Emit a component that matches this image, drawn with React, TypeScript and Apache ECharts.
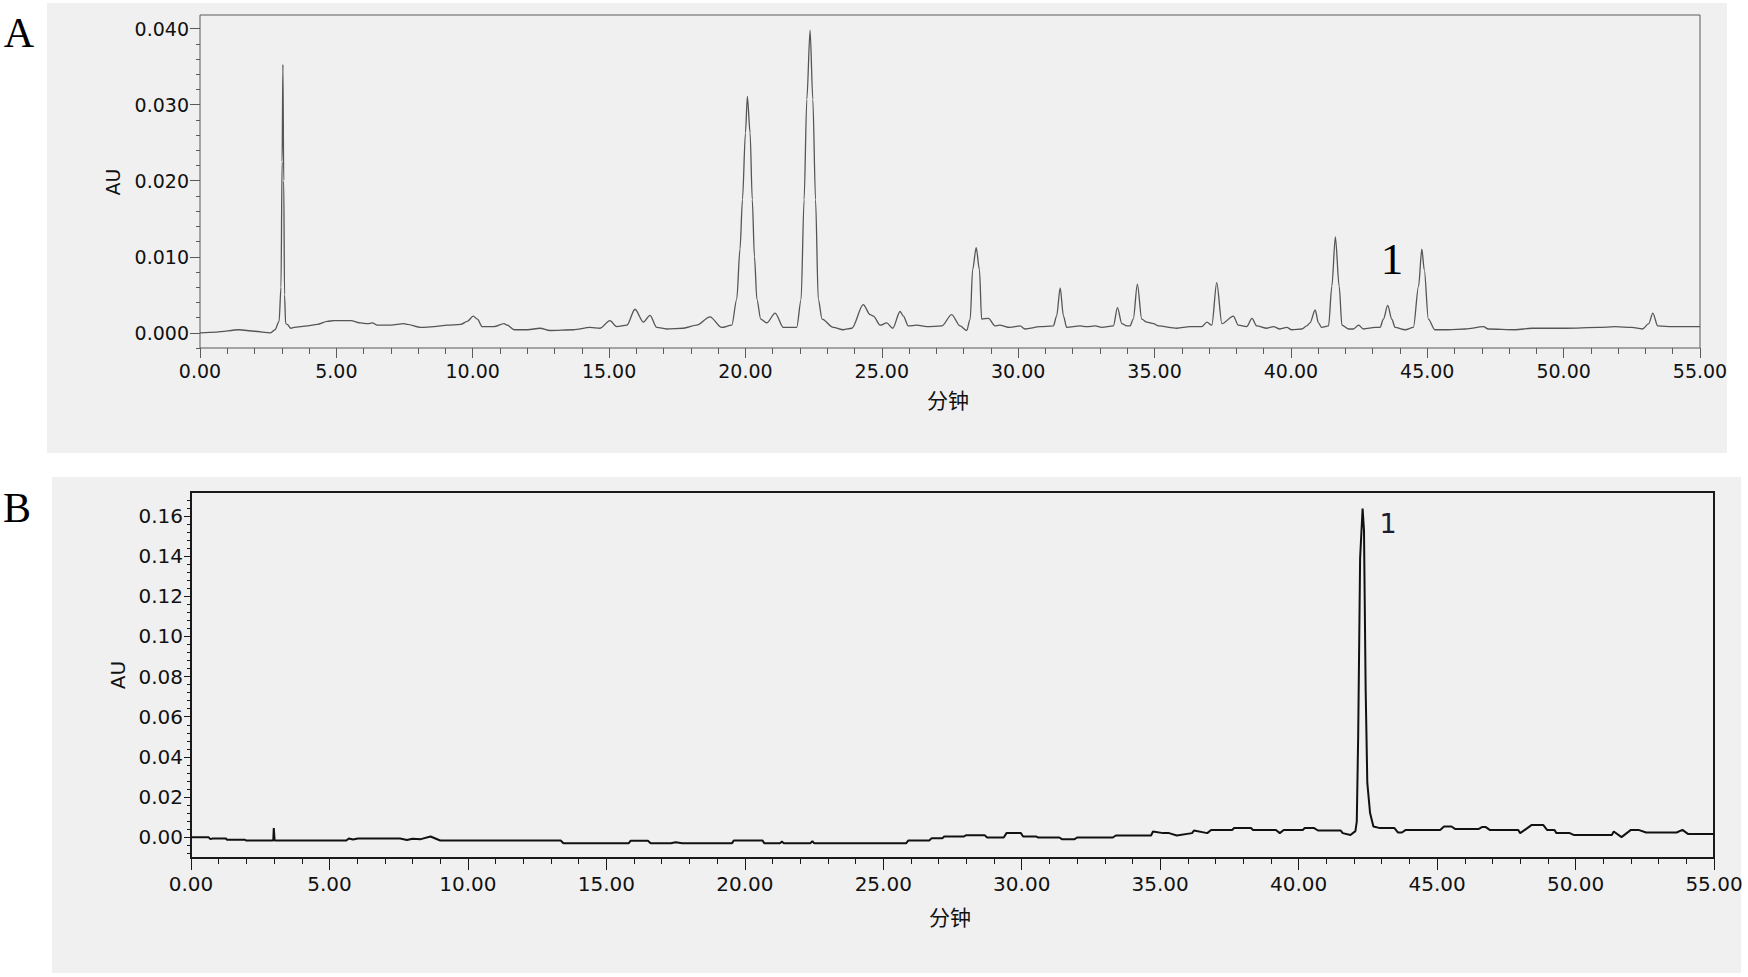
import React, { useEffect, useRef } from "react";
import * as echarts from "echarts";

// ---------- Panel A chromatogram (time in min, absorbance in AU) ----------
const chromA: [number, number][] = [
  [0.0, 0.0], [0.6, 0.0001], [1.43, 0.0004], [2.0, 0.0002], [2.59, 0.0], [2.75, 0.0004],
  [2.9, 0.0015], [2.97, 0.006], [3.01, 0.0225], [3.04, 0.0353], [3.07, 0.02], [3.1, 0.005],
  [3.14, 0.0012], [3.2, 0.0011], [3.33, 0.0006], [3.45, 0.0007], [3.94, 0.0009], [4.3, 0.0011],
  [4.67, 0.0015], [4.91, 0.0016], [5.53, 0.0016], [5.89, 0.0013], [6.14, 0.0012], [6.32, 0.0013],
  [6.5, 0.001], [6.99, 0.001], [7.48, 0.0012], [7.6, 0.0011], [8.09, 0.0007], [8.58, 0.0008],
  [9.07, 0.001], [9.56, 0.0011], [9.8, 0.0015], [10.02, 0.0022], [10.17, 0.0018], [10.35, 0.0008],
  [10.78, 0.0008], [11.15, 0.0012], [11.27, 0.001], [11.52, 0.0004], [12.01, 0.0004], [12.47, 0.0006],
  [12.83, 0.0003], [13.69, 0.0004], [14.3, 0.0007], [14.67, 0.0006], [15.03, 0.0016], [15.28, 0.0008],
  [15.65, 0.001], [15.95, 0.0031], [16.26, 0.0014], [16.5, 0.0023], [16.75, 0.0007], [17.11, 0.0005],
  [17.72, 0.0006], [18.21, 0.001], [18.7, 0.0021], [19.13, 0.0007], [19.5, 0.001], [19.68, 0.0044],
  [19.8, 0.011], [19.89, 0.0175], [20.0, 0.0263], [20.07, 0.0311], [20.17, 0.0263], [20.25, 0.0175],
  [20.33, 0.01], [20.42, 0.0044], [20.56, 0.0018], [20.78, 0.0013], [21.09, 0.0026], [21.39, 0.0007],
  [21.88, 0.0007], [22.04, 0.0044], [22.15, 0.0175], [22.25, 0.0307], [22.37, 0.0398], [22.47, 0.0307],
  [22.57, 0.0175], [22.67, 0.0044], [22.81, 0.0018], [23.22, 0.0007], [23.59, 0.0004], [23.9, 0.0006],
  [24.32, 0.0037], [24.57, 0.0024], [24.69, 0.0022], [24.94, 0.001], [25.18, 0.0013], [25.4, 0.0006],
  [25.67, 0.0028], [25.79, 0.0022], [25.97, 0.0009], [26.28, 0.001], [26.65, 0.0008], [27.2, 0.0009],
  [27.56, 0.0024], [27.87, 0.0009], [28.11, 0.0003], [28.24, 0.0018], [28.33, 0.0083], [28.46, 0.0112],
  [28.58, 0.0083], [28.66, 0.0018], [28.91, 0.0019], [29.15, 0.0009], [29.31, 0.001], [29.7, 0.0007],
  [30.07, 0.0009], [30.25, 0.0005], [30.8, 0.0008], [31.29, 0.0009], [31.41, 0.0022], [31.54, 0.0059],
  [31.66, 0.0022], [31.78, 0.0007], [32.27, 0.0009], [32.52, 0.0008], [32.82, 0.0009], [33.07, 0.0007],
  [33.49, 0.0009], [33.64, 0.0033], [33.8, 0.0012], [33.98, 0.0009], [34.1, 0.0009], [34.22, 0.0018],
  [34.37, 0.0064], [34.53, 0.0018], [34.72, 0.0014], [34.96, 0.0012], [35.14, 0.0009], [35.82, 0.0006],
  [36.3, 0.0008], [36.73, 0.0008], [36.92, 0.0014], [37.1, 0.001], [37.28, 0.0066], [37.47, 0.0012],
  [37.89, 0.0022], [38.07, 0.001], [38.38, 0.0008], [38.57, 0.0019], [38.75, 0.0009], [39.12, 0.0006],
  [39.36, 0.0008], [39.6, 0.0005], [39.85, 0.0007], [40.03, 0.0004], [40.4, 0.0005], [40.58, 0.0009],
  [40.7, 0.0013], [40.89, 0.003], [41.01, 0.0013], [41.13, 0.0007], [41.38, 0.0009], [41.5, 0.0061],
  [41.63, 0.0126], [41.77, 0.0061], [41.87, 0.001], [42.11, 0.0005], [42.29, 0.0005], [42.48, 0.001],
  [42.66, 0.0005], [43.09, 0.0007], [43.27, 0.0007], [43.39, 0.0018], [43.55, 0.0036], [43.7, 0.0018],
  [43.82, 0.0007], [44.19, 0.0004], [44.49, 0.0007], [44.68, 0.0061], [44.8, 0.011], [44.89, 0.0083],
  [45.04, 0.0018], [45.28, 0.0004], [45.77, 0.0004], [46.39, 0.0005], [47.06, 0.0008], [47.24, 0.0005],
  [48.22, 0.0004], [48.83, 0.0006], [50.06, 0.0006], [51.28, 0.0007], [51.89, 0.0008], [52.5, 0.0007],
  [52.89, 0.0005], [53.12, 0.0012], [53.27, 0.0026], [53.45, 0.0009], [54.0, 0.0008], [55.0, 0.0008],
];

// ---------- Panel B chromatogram ----------
const chromB: [number, number][] = [
  [0.0, 0.0], [0.63, 0.0], [0.7, -0.001], [0.78, -0.0007], [1.26, -0.0007], [1.3, -0.0013],
  [1.95, -0.0013], [2.0, -0.0017], [2.97, -0.0017], [2.99, 0.0045], [3.02, -0.0017], [5.61, -0.0017],
  [5.7, -0.0007], [5.85, -0.0012], [6.03, -0.0007], [7.55, -0.0007], [7.8, -0.0014], [8.0, -0.0008],
  [8.3, -0.001], [8.65, 0.0003], [9.0, -0.0017], [13.35, -0.0017], [13.45, -0.003], [15.81, -0.003],
  [15.88, -0.0018], [16.5, -0.0018], [16.6, -0.003], [17.33, -0.003], [17.5, -0.0025], [17.74, -0.003],
  [19.54, -0.003], [19.6, -0.0017], [20.64, -0.0017], [20.7, -0.003], [21.27, -0.003], [21.34, -0.0022],
  [21.4, -0.003], [22.37, -0.003], [22.44, -0.002], [22.5, -0.003], [25.83, -0.003], [25.9, -0.0017],
  [26.66, -0.0017], [26.75, -0.0005], [27.14, -0.0005], [27.2, 0.0003], [27.9, 0.0003], [28.0, 0.001],
  [28.66, 0.001], [28.75, -0.0002], [29.35, -0.0002], [29.45, 0.002], [29.97, 0.002], [30.05, 0.0003],
  [30.53, 0.0003], [30.6, -0.0002], [31.36, -0.0002], [31.45, -0.001], [31.91, -0.001], [32.0, -0.0002],
  [33.29, -0.0002], [33.4, 0.0008], [34.67, 0.0008], [34.74, 0.0028], [35.1, 0.002], [35.32, 0.002],
  [35.6, 0.0008], [36.15, 0.002], [36.22, 0.0033], [36.7, 0.002], [36.84, 0.0036], [37.6, 0.0036],
  [37.67, 0.0045], [38.28, 0.0045], [38.35, 0.0036], [39.18, 0.0036], [39.32, 0.002], [39.46, 0.0036],
  [40.15, 0.0036], [40.22, 0.0045], [40.56, 0.0045], [40.7, 0.0033], [41.52, 0.0033], [41.59, 0.002],
  [41.87, 0.0011], [42.05, 0.003], [42.1, 0.0078], [42.15, 0.05], [42.22, 0.139], [42.31, 0.1638],
  [42.36, 0.153], [42.42, 0.074], [42.48, 0.027], [42.58, 0.012], [42.7, 0.0053], [42.94, 0.0045],
  [43.46, 0.0045], [43.59, 0.0023], [43.73, 0.0023], [43.87, 0.0036], [45.11, 0.0036], [45.25, 0.0053],
  [45.52, 0.0053], [45.66, 0.004], [46.49, 0.004], [46.62, 0.005], [46.76, 0.005], [46.9, 0.0036],
  [47.93, 0.0036], [48.0, 0.002], [48.42, 0.0061], [48.83, 0.0061], [48.97, 0.0036], [49.24, 0.0036],
  [49.31, 0.002], [49.79, 0.002], [49.93, 0.0011], [51.31, 0.0011], [51.38, 0.0028], [51.66, 0.0],
  [52.0, 0.0036], [52.27, 0.0036], [52.55, 0.0023], [53.65, 0.0023], [53.86, 0.0036], [54.07, 0.0015],
  [55.0, 0.0015],
];

// ---------- Tick values ----------
const X_MAJOR = [0, 5, 10, 15, 20, 25, 30, 35, 40, 45, 50, 55];
const X_MINOR = Array.from({ length: 56 }, (_, i) => i).filter((v) => v % 5 !== 0);
const A_Y_MAJOR = [0, 0.01, 0.02, 0.03, 0.04];
const A_Y_MINOR = [-0.002, 0.002, 0.004, 0.006, 0.008, 0.012, 0.014, 0.016, 0.018, 0.022, 0.024, 0.026, 0.028, 0.032, 0.034, 0.036, 0.038];
const B_Y_MAJOR = [0, 0.02, 0.04, 0.06, 0.08, 0.1, 0.12, 0.14, 0.16];
const B_Y_MINOR = [-0.008, -0.004, 0.004, 0.008, 0.012, 0.016, 0.024, 0.028, 0.032, 0.036, 0.044, 0.048, 0.052, 0.056, 0.064, 0.068, 0.072, 0.076, 0.084, 0.088, 0.092, 0.096, 0.104, 0.108, 0.112, 0.116, 0.124, 0.128, 0.132, 0.136, 0.144, 0.148, 0.152, 0.156, 0.164, 0.168];

const X_NAME = "分钟";
const Y_NAME = "AU";
const PEAK_LABEL = "1";

const SANS = "DejaVu Sans";
const A_COLOR = "#555555";
const B_COLOR = "#111111";

function buildOption() {
  const gridA = { left: 200, top: 15, width: 1500, height: 333 };
  const gridB = { left: 191, top: 492, width: 1523, height: 366 };

  const xAxisBase = (gridIndex: number, color: string, fs: number, margin: number, majLen: number, minLen: number) => [
    {
      type: "value", gridIndex, min: 0, max: 55, position: "bottom",
      axisLine: { show: false, onZero: false },
      splitLine: { show: false },
      axisTick: { show: true, customValues: X_MAJOR, length: majLen, lineStyle: { color, width: 1 } },
      axisLabel: {
        show: true, customValues: X_MAJOR, margin, color: "#111",
        fontFamily: SANS, fontSize: fs,
        formatter: (v: number) => v.toFixed(2),
      },
    },
    {
      type: "value", gridIndex, min: 0, max: 55, position: "bottom",
      axisLine: { show: false, onZero: false },
      splitLine: { show: false },
      axisTick: { show: true, customValues: X_MINOR, length: minLen, lineStyle: { color, width: 1 } },
      axisLabel: { show: false },
    },
  ];

  const yAxisBase = (gridIndex: number, min: number, max: number, major: number[], minor: number[], digits: number,
    color: string, fs: number, margin: number, majLen: number, minLen: number) => [
    {
      type: "value", gridIndex, min, max, position: "left",
      axisLine: { show: false, onZero: false },
      splitLine: { show: false },
      axisTick: { show: true, customValues: major, length: majLen, lineStyle: { color, width: 1 } },
      axisLabel: {
        show: true, customValues: major, margin, color: "#111",
        fontFamily: SANS, fontSize: fs,
        formatter: (v: number) => v.toFixed(digits),
      },
    },
    {
      type: "value", gridIndex, min, max, position: "left",
      axisLine: { show: false, onZero: false },
      splitLine: { show: false },
      axisTick: { show: true, customValues: minor, length: minLen, lineStyle: { color, width: 1 } },
      axisLabel: { show: false },
    },
  ];

  const text = (t: string, x: number, y: number, font: string, fill: string, rotation = 0) => ({
    type: "text", x, y, rotation, z: 10, silent: true,
    style: { text: t, font, fill, textAlign: "center", textVerticalAlign: "middle" },
  });

  return {
    animation: false,
    backgroundColor: "#ffffff",
    grid: [
      { ...gridA, show: true, backgroundColor: "#f0f0f0", borderColor: "#5a5a5a", borderWidth: 1 },
      { ...gridB, show: true, backgroundColor: "#f0f0f0", borderColor: "#1a1a1a", borderWidth: 2 },
    ],
    xAxis: [
      ...xAxisBase(0, "#5a5a5a", 19, 13, 10, 6),
      ...xAxisBase(1, "#1a1a1a", 20, 16, 12, 6),
    ],
    yAxis: [
      ...yAxisBase(0, -0.002, 0.0418, A_Y_MAJOR, A_Y_MINOR, 3, "#5a5a5a", 19, 11, 10, 4),
      ...yAxisBase(1, -0.0104, 0.172, B_Y_MAJOR, B_Y_MINOR, 2, "#1a1a1a", 20, 8, 7, 4),
    ],
    series: [
      {
        type: "line", xAxisIndex: 0, yAxisIndex: 0, data: chromA,
        showSymbol: false, smooth: 0.3, smoothMonotone: "x",
        lineStyle: { color: A_COLOR, width: 1.3 }, silent: true,
      },
      {
        type: "line", xAxisIndex: 2, yAxisIndex: 2, data: chromB,
        showSymbol: false, smooth: false,
        lineStyle: { color: B_COLOR, width: 2 }, silent: true,
      },
    ],
    graphic: [
      { type: "rect", z: -10, silent: true, shape: { x: 47, y: 3, width: 1680, height: 450 }, style: { fill: "#f0f0f0" } },
      { type: "rect", z: -10, silent: true, shape: { x: 52, y: 477, width: 1689, height: 496 }, style: { fill: "#f0f0f0" } },
      text("A", 19, 33, '42px "Liberation Serif"', "#000"),
      text("B", 17, 508, '42px "Liberation Serif"', "#000"),
      text(Y_NAME, 113, 182, `19px "${SANS}"`, "#111", Math.PI / 2),
      text(Y_NAME, 118, 675, `20px "${SANS}"`, "#111", Math.PI / 2),
      text(X_NAME, 948, 399, '21px "Noto Sans CJK SC"', "#111"),
      text(X_NAME, 950, 916, '21px "Noto Sans CJK SC"', "#111"),
      text(PEAK_LABEL, 1392, 259, '45px "Liberation Serif"', "#000"),
      text(PEAK_LABEL, 1388, 523, `27px "${SANS}"`, "#1c1c30"),
    ],
  };
}

export default function App() {
  const ref = useRef<HTMLDivElement>(null);
  useEffect(() => {
    if (!ref.current) return;
    const chart = echarts.init(ref.current, undefined, { renderer: "svg" });
    chart.setOption(buildOption() as any);
    return () => chart.dispose();
  }, []);
  return (
    <div
      ref={ref}
      style={{ position: "fixed", left: 0, top: 0, width: 1748, height: 977, background: "#fff" }}
    />
  );
}
